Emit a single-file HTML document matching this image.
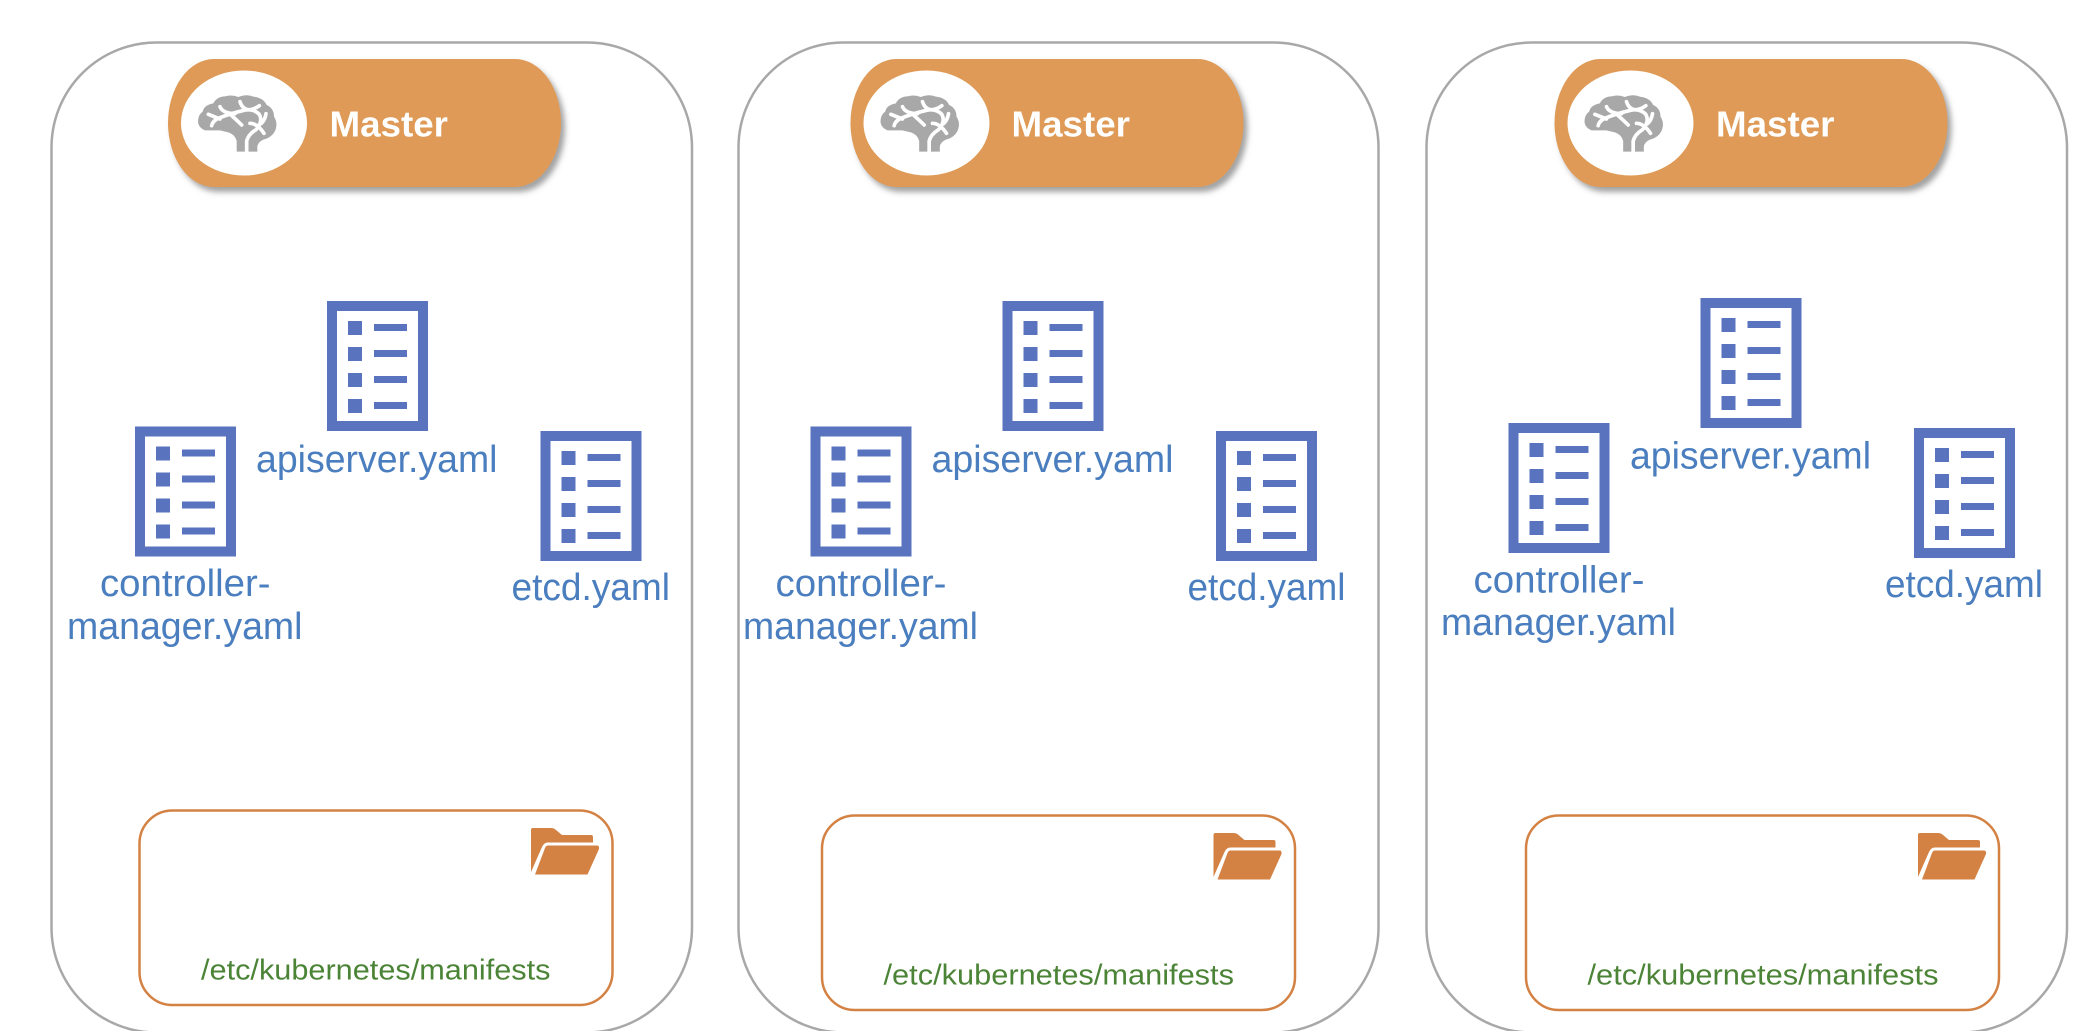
<!DOCTYPE html>
<html><head><meta charset="utf-8"><style>
html,body{margin:0;padding:0;background:#fff;width:2093px;height:1031px;overflow:hidden}
svg{display:block}
.y{font-family:"Liberation Sans",sans-serif;font-size:38px;fill:#4A7EBE}
.m{font-family:"Liberation Sans",sans-serif;font-size:36px;font-weight:bold;fill:#fff}
.g{font-family:"Liberation Sans",sans-serif;font-size:29px;fill:#4C8437}
</style></head><body>
<svg width="2093" height="1031" viewBox="0 0 2093 1031" xmlns="http://www.w3.org/2000/svg">
<defs>
<filter id="s" x="-10%" y="-20%" width="125%" height="150%"><feDropShadow dx="4" dy="5" stdDeviation="3" flood-color="#555" flood-opacity=".55"/></filter>
<g id="pill">
<rect x="0" y="0" width="393" height="128" rx="46" ry="64" fill="#DE9A56" filter="url(#s)"/>
<ellipse cx="76" cy="64" rx="63" ry="52.5" fill="#fff"/>
<g transform="translate(76,64) scale(.3333) translate(-222,-204)">
<path fill="#A8A8A8" d="M200 290 L200 258 Q195 238 175 232 L150 226 L105 226 Q85 218 84 200 Q84 180 98 170 Q102 150 130 145 Q140 125 165 124 Q185 118 205 126 Q230 116 250 125 Q280 128 290 150 Q312 160 312 185 Q325 205 315 228 Q305 248 280 254 Q263 262 262 275 L262 290 Z"/>
<g fill="none" stroke="#fff" stroke-width="11" stroke-linecap="round">
<path d="M230 290 L230 258 Q235 238 258 224 Q280 200 268 178 Q250 160 222 166 Q180 176 145 190 Q128 198 125 212"/>
<path d="M115 178 L150 192"/>
<path d="M150 155 Q158 175 195 176"/>
<path d="M210 140 Q218 165 240 164 Q255 162 268 152"/>
<path d="M288 176 Q285 195 274 205"/>
<path d="M240 205 Q262 205 282 235"/>
<path d="M183 180 Q200 195 215 210"/>
</g>
</g>
</g>
<g id="doc" fill="#5A73BE">
<rect x="5" y="5" width="91" height="120" fill="#fff" stroke="#5A73BE" stroke-width="10"/>
<rect x="21" y="20" width="14" height="14"/><rect x="47" y="23" width="33" height="7"/>
<rect x="21" y="46" width="14" height="14"/><rect x="47" y="49" width="33" height="7"/>
<rect x="21" y="72" width="14" height="14"/><rect x="47" y="75" width="33" height="7"/>
<rect x="21" y="98" width="14" height="14"/><rect x="47" y="101" width="33" height="7"/>
</g>
<g id="folder" fill="#D38244">
<path d="M0 2 Q0 0 2 0 L20 0 Q23 0 25 2 L31 7 L60 7 Q62 7 62 9 L62 14.500 L17 14.500 Q13 14.500 11 19 L0 44 Z"/>
<path d="M17 17.500 L66 17.500 Q68.500 17.500 68 21 L56.500 46.500 L4 46.500 L14 20 Q15 17.500 17 17.500 Z"/>
</g>
</defs>
<rect width="2093" height="1031" fill="#fff"/>

<!-- Column 1 -->
<rect x="51.500" y="42.500" width="640.500" height="990" rx="105" fill="#fff" stroke="#A8A8A8" stroke-width="2.500"/>
<use href="#pill" x="168" y="59"/>
<text class="m" x="329.500" y="136.500" textLength="118.500" lengthAdjust="spacingAndGlyphs">Master</text>
<use href="#doc" x="327" y="301"/>
<use href="#doc" x="135" y="426.500"/>
<use href="#doc" x="540.500" y="431"/>
<text class="y" x="256" y="472" textLength="241.500" lengthAdjust="spacingAndGlyphs">apiserver.yaml</text>
<text class="y" x="100" y="596" textLength="170.500" lengthAdjust="spacingAndGlyphs">controller-</text>
<text class="y" x="67" y="639" textLength="235.500" lengthAdjust="spacingAndGlyphs">manager.yaml</text>
<text class="y" x="511.500" y="600" textLength="158.500" lengthAdjust="spacingAndGlyphs">etcd.yaml</text>
<rect x="139.500" y="810.500" width="473" height="194.500" rx="33" fill="#fff" stroke="#D38244" stroke-width="2.500"/>
<use href="#folder" x="531" y="828"/>
<text class="g" x="201" y="979.500" textLength="349.500" lengthAdjust="spacingAndGlyphs">/etc/kubernetes/manifests</text>

<!-- Column 2 -->
<rect x="738.500" y="42.500" width="640" height="990" rx="105" fill="#fff" stroke="#A8A8A8" stroke-width="2.500"/>
<use href="#pill" x="850.500" y="59"/>
<text class="m" x="1011.500" y="136.500" textLength="118.500" lengthAdjust="spacingAndGlyphs">Master</text>
<use href="#doc" x="1002.500" y="301"/>
<use href="#doc" x="810.500" y="426.500"/>
<use href="#doc" x="1216" y="431"/>
<text class="y" x="931.500" y="472" textLength="242" lengthAdjust="spacingAndGlyphs">apiserver.yaml</text>
<text class="y" x="775.500" y="596" textLength="171" lengthAdjust="spacingAndGlyphs">controller-</text>
<text class="y" x="743" y="639" textLength="235" lengthAdjust="spacingAndGlyphs">manager.yaml</text>
<text class="y" x="1187.500" y="600" textLength="158" lengthAdjust="spacingAndGlyphs">etcd.yaml</text>
<rect x="822" y="815.500" width="473" height="194.500" rx="33" fill="#fff" stroke="#D38244" stroke-width="2.500"/>
<use href="#folder" x="1213.500" y="833"/>
<text class="g" x="883.500" y="984.300" textLength="350.500" lengthAdjust="spacingAndGlyphs">/etc/kubernetes/manifests</text>

<!-- Column 3 -->
<rect x="1426.500" y="42.500" width="640.500" height="990" rx="105" fill="#fff" stroke="#A8A8A8" stroke-width="2.500"/>
<use href="#pill" x="1554.500" y="59"/>
<text class="m" x="1716" y="136.500" textLength="118.500" lengthAdjust="spacingAndGlyphs">Master</text>
<use href="#doc" x="1700.500" y="298"/>
<use href="#doc" x="1508.500" y="423"/>
<use href="#doc" x="1914" y="428"/>
<text class="y" x="1630" y="468.500" textLength="241" lengthAdjust="spacingAndGlyphs">apiserver.yaml</text>
<text class="y" x="1473.500" y="592.700" textLength="171" lengthAdjust="spacingAndGlyphs">controller-</text>
<text class="y" x="1441" y="635" textLength="235" lengthAdjust="spacingAndGlyphs">manager.yaml</text>
<text class="y" x="1885" y="597" textLength="158" lengthAdjust="spacingAndGlyphs">etcd.yaml</text>
<rect x="1526" y="815.500" width="473" height="194.500" rx="33" fill="#fff" stroke="#D38244" stroke-width="2.500"/>
<use href="#folder" x="1918" y="833"/>
<text class="g" x="1587.500" y="984.300" textLength="351" lengthAdjust="spacingAndGlyphs">/etc/kubernetes/manifests</text>
</svg>
</body></html>
